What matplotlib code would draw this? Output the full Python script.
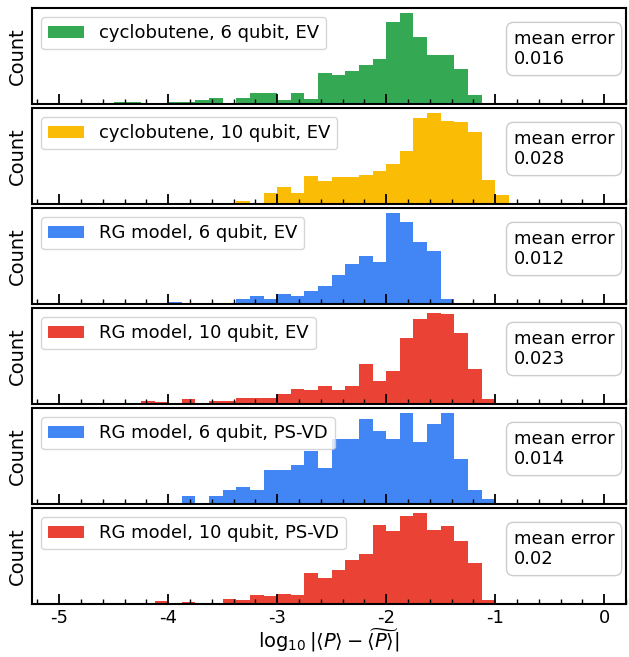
import matplotlib
matplotlib.use('Agg')
import matplotlib.pyplot as plt
from matplotlib.ticker import MultipleLocator

plt.rcParams['font.family'] = ['DejaVu Sans']
plt.rcParams['axes.unicode_minus'] = False

# bin edges of log10 error histogram
bin_edges = [-4.75, -4.625, -4.5, -4.375, -4.25, -4.125, -4.0, -3.875, -3.75, -3.625,
             -3.5, -3.375, -3.25, -3.125, -3.0, -2.875, -2.75, -2.625, -2.5, -2.375,
             -2.25, -2.125, -2.0, -1.875, -1.75, -1.625, -1.5, -1.375, -1.25, -1.125,
             -1.0, -0.875]

counts_cyc6_ev = [0, 0, 2, 2, 0, 0, 2, 2, 4, 7, 0, 7, 12, 12, 4, 12, 5, 34, 32, 36,
                  43, 50, 91, 100, 74, 54, 54, 39, 10, 0, 0]
counts_cyc10_ev = [0, 0, 0, 0, 0, 1, 0, 1, 1, 0, 1, 3, 1, 12, 19, 12, 31, 25, 30, 30,
                   32, 36, 44, 59, 95, 100, 92, 91, 79, 26, 10]
counts_rg6_ev = [0, 0, 0, 0, 0, 0, 2, 0, 1, 1, 1, 5, 9, 5, 11, 9, 14, 20, 32, 44,
                 53, 46, 100, 91, 68, 59, 5, 1, 0, 0, 0]
counts_rg10_ev = [1, 0, 1, 0, 3, 2, 1, 5, 0, 3, 3, 7, 7, 7, 11, 17, 16, 20, 16, 20,
                  44, 25, 36, 73, 94, 100, 99, 78, 39, 5, 0]
counts_rg6_psvd = [0, 1, 0, 0, 1, 1, 1, 9, 1, 9, 15, 19, 15, 37, 37, 43, 59, 40, 72, 72,
                   94, 81, 72, 100, 69, 88, 100, 50, 15, 5, 0]
counts_rg10_psvd = [0, 0, 0, 0, 0, 3, 1, 2, 0, 1, 5, 4, 10, 9, 11, 10, 34, 29, 37, 49,
                    55, 87, 81, 97, 100, 82, 86, 70, 45, 4, 0]

series_counts = [counts_cyc6_ev, counts_cyc10_ev, counts_rg6_ev,
                 counts_rg10_ev, counts_rg6_psvd, counts_rg10_psvd]
labels = ['cyclobutene, 6 qubit, EV', 'cyclobutene, 10 qubit, EV',
          'RG model, 6 qubit, EV', 'RG model, 10 qubit, EV',
          'RG model, 6 qubit, PS-VD', 'RG model, 10 qubit, PS-VD']
mean_errors = ['0.016', '0.028', '0.012', '0.023', '0.014', '0.02']
colors = ['#34A853', '#FBBC05', '#4285F4', '#EA4335', '#4285F4', '#EA4335']

W, H = 629, 657
fig = plt.figure(figsize=(W / 100, H / 100), dpi=100)
axes = fig.subplots(6, 1, sharex=True, gridspec_kw=dict(hspace=0.042))
fig.subplots_adjust(left=32 / W, right=626 / W, top=1 - 8 / H, bottom=1 - 604 / H)

for ax, cnt, lab, me, col in zip(axes, series_counts, labels, mean_errors, colors):
    ax.stairs(cnt, bin_edges, fill=True, color=col, label=lab)
    ax.set_xlim(-5.25, 0.2)
    ax.set_ylim(0, max(cnt) * 1.06)
    ax.set_yticks([])
    ax.set_ylabel('Count', fontsize=14)
    for s in ax.spines.values():
        s.set_linewidth(1.5)
    ax.xaxis.set_major_locator(MultipleLocator(1))
    ax.xaxis.set_minor_locator(MultipleLocator(0.2))
    ax.tick_params(axis='x', which='major', direction='in', length=7, width=1.3,
                   labelsize=13, pad=3.5)
    ax.tick_params(axis='x', which='minor', direction='in', length=3.5, width=1.0)
    ax.legend(loc='upper left', fontsize=13)
    ax.text(0.811, 0.775, 'mean error\n' + me, transform=ax.transAxes,
            ha='left', va='top', fontsize=13,
            bbox=dict(boxstyle='round,pad=0.4', fc='white', ec='0.8'))

axes[-1].set_xlabel(r'$\log_{10}|\langle P\rangle - \widetilde{\langle P\rangle}|$',
                    fontsize=14, labelpad=-0.5)

fig.savefig('out.png', dpi=100)
